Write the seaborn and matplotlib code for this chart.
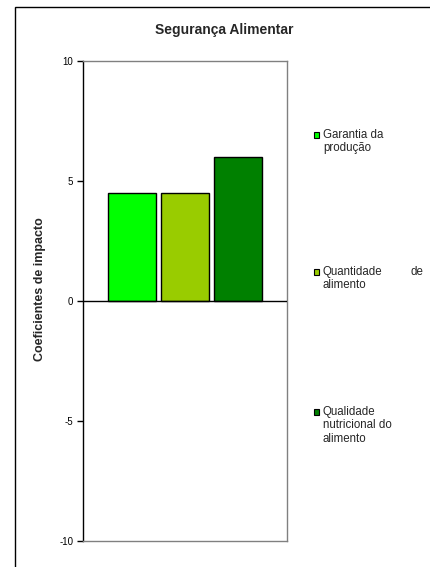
import matplotlib
matplotlib.use('Agg')
import matplotlib.pyplot as plt
from matplotlib.patches import Rectangle
import seaborn as sns

# data
categorias = ['Garantia da produção', 'Quantidade de alimento',
              'Qualidade nutricional do alimento']
coeficientes = [4.5, 4.5, 6.0]
cores = ['#00FF00', '#99CC00', '#008000']
rotulos_legenda = ['Garantia da\nprodução', 'Quantidade\nalimento',
                   'Qualidade\nnutricional do\nalimento']
yticks = [-10, -5, 0, 5, 10]

sns.set_theme(style='white')
plt.rcParams['font.family'] = ['Liberation Sans', 'DejaVu Sans']

W, H = 431, 567
fig = plt.figure(figsize=(W / 100, H / 100), dpi=100)
fig.patch.set_facecolor('white')

def fx(px):
    return px / W

def fy(py):
    return 1 - py / H

# outer frame
fig.add_artist(Rectangle((fx(15), fy(600)), 1.2, fy(7) - fy(600),
                         transform=fig.transFigure, fill=False,
                         edgecolor='black', linewidth=1.0, zorder=1))

ax = fig.add_axes([fx(83), fy(541), fx(287) - fx(83), fy(61) - fy(541)])
ax.set_facecolor('none')

sns.barplot(x=categorias, y=coeficientes, hue=categorias, palette=cores,
            width=0.91, edgecolor='black', linewidth=1.0, legend=False,
            saturation=1, ax=ax)

ax.set_xlim(-0.925, 2.925)
ax.set_ylim(-10, 10)
ax.set_yticks(yticks)
ax.set_yticklabels([str(t) for t in yticks])
ax.set_xticks([])
ax.set_xlabel('')
ax.set_ylabel('')
ax.axhline(0, color='black', linewidth=1.0, zorder=3)

for s in ['top', 'right', 'bottom']:
    ax.spines[s].set_color('#808080')
    ax.spines[s].set_linewidth(1.0)
ax.spines['left'].set_color('black')
ax.spines['left'].set_linewidth(1.0)

ax.tick_params(axis='y', direction='out', length=4, width=1, color='black',
               labelsize=7, labelcolor='black', pad=3, left=True)

fig.text(fx(224), fy(30), 'Segurança Alimentar', fontsize=10,
         fontweight='bold', ha='center', va='center')
fig.text(fx(40), fy(289), 'Coeficientes de impacto', fontsize=9,
         fontweight='bold', rotation=90, ha='center', va='center')

# legend, spread down the right side
linhas = [135, 272, 412]
for lab, cor, yl in zip(rotulos_legenda, cores, linhas):
    fig.add_artist(Rectangle((fx(314), fy(yl + 3)), fx(5), fy(yl - 3) - fy(yl + 3),
                             transform=fig.transFigure, facecolor=cor,
                             edgecolor='black', linewidth=0.8, zorder=3))
    fig.text(fx(323), fy(yl - 6), lab, fontsize=8.3, ha='left', va='top',
             linespacing=1.15)
fig.text(fx(423), fy(linhas[1] - 6), 'de', fontsize=8.3, ha='right', va='top')

fig.savefig('out.png', dpi=100)
